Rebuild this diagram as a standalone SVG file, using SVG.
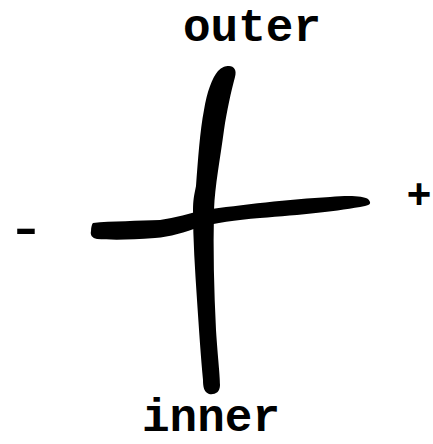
<svg xmlns="http://www.w3.org/2000/svg" width="433" height="444" viewBox="0 0 433 444">
<style>
.lbl{font-family:"Liberation Mono","Courier New",monospace;font-weight:bold;font-size:46px;fill:#000}
.sign{font-family:"Liberation Sans",Arial,sans-serif;font-weight:bold;fill:#000}
.ink{fill:#000}
</style>
<rect width="433" height="444" fill="#fff"/>
<g id="axes">
<path id="vertical" class="ink" d="M229,66 C234,66 237,70 235,77 C231,92 227,110 224,130 C220,160 215,185 214,210 C213,250 214,290 216,330 C218,360 220,375 220,385 C220,393 214,395 209,394 C204,392 203,387 203,380 C201,360 199,330 197,300 C195,270 193,240 193,210 C193,200 194,196 196,186 C198,160 200,130 204,110 C207,92 212,78 218,71 C222,67 225,66 229,66 Z"/>
<path id="horizontal" class="ink" d="M93,223 C110,221 140,221 160,220 C175,218 190,213 205,210 C240,205 290,199 330,197 C350,195 363,196 368,199 C372,203 370,205 365,206 C340,211 300,215 260,218 C235,220 215,223 200,227 C185,232 170,237 155,238 C130,240 110,240 97,239 C92,238 90,235 91,231 C91,227 92,224 93,223 Z"/>
</g>
<g id="label-outer"><text class="lbl" x="252" y="41" text-anchor="middle">outer</text></g>
<g id="label-inner"><text class="lbl" x="211" y="431" text-anchor="middle">inner</text></g>
<g id="label-minus"><text class="sign" x="26" y="243" font-size="44" text-anchor="middle" textLength="23" lengthAdjust="spacingAndGlyphs">-</text></g>
<g id="label-plus"><text class="sign" x="419" y="208" font-size="42" text-anchor="middle">+</text></g>
</svg>
